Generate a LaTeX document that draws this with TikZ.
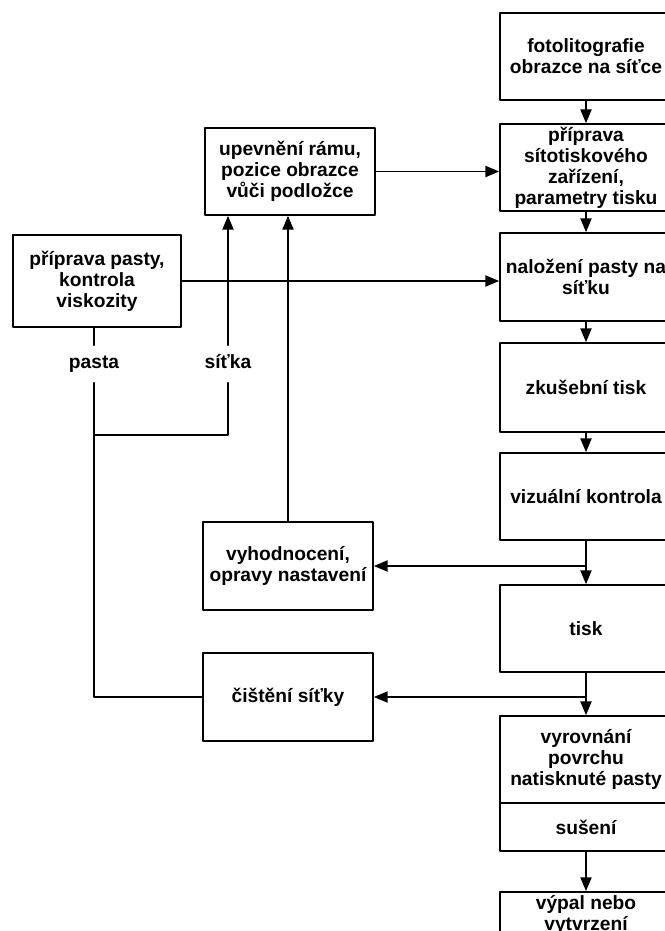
\documentclass[tikz,border=0pt]{standalone}
\usepackage{fontspec}
\setmainfont{Liberation Sans}
\usetikzlibrary{arrows}

\begin{document}
\begin{tikzpicture}[line cap=round,line join=round,>=triangle 45,x=0.75pt,y=-0.75pt,line width=1.4pt,
	box/.style={draw,align=center,inner sep=1pt,font=\fontsize{14.4}{15.75}\selectfont\bfseries},
	colbox/.style={box,minimum width=129pt,minimum height=65.25pt},
	sidebox/.style={box,minimum width=127.5pt,minimum height=66pt},
	lbl/.style={font=\fontsize{14.4}{15.75}\selectfont\bfseries,text height=10pt,text depth=3pt,inner xsep=2pt,inner ysep=7pt}]
				\useasboundingbox (0,0) rectangle (664,931);
				\node[colbox] (foto) at (586,56.5) {fotolitografie\\obrazce na síťce};
				\node[colbox] (pripr) at (586,167.5) {příprava\\sítotiskového\\zařízení,\\parametry tisku};
				\node[colbox,minimum height=66pt] (nalo) at (586,277) {naložení pasty na\\síťku};
				\node[colbox,minimum height=66.75pt] (zkus) at (586,387.5) {zkušební tisk};
				\node[colbox] (viz) at (586,496.5) {vizuální kontrola};
				\node[colbox] (tisk) at (586,628.5) {tisk};
				\node[colbox] (vyr) at (586,759.5) {vyrovnání\\povrchu\\natisknuté pasty};
				\node[colbox,minimum height=36pt] (sus) at (586,827) {sušení};
				\node[box,minimum width=129pt,inner ysep=2.5pt,anchor=north] (vypal) at (586,891) {výpal nebo\\vytvrzení};
				\node[sidebox,minimum height=65.25pt] (upev) at (290,171.5) {upevnění rámu,\\pozice obrazce\\vůči podložce};
				\node[sidebox,minimum width=126pt,minimum height=69pt] (pasty) at (97,281) {příprava pasty,\\kontrola\\viskozity};
				\node[sidebox] (vyh) at (288,566) {vyhodnocení,\\opravy nastavení};
				\node[sidebox] (cist) at (288,697) {čištění síťky};
				\node[lbl] (pasta) at (94,364) {pasta};
				\node[lbl] (sitka) at (228,364) {síťka};
				\coordinate (spoj) at (94,435);
				\draw [->] (foto) -- (pripr);
				\draw [->] (pripr) -- (nalo);
				\draw [->] (nalo) -- (zkus);
				\draw [->] (zkus) -- (viz);
				\draw [->] (viz) -- (tisk);
				\draw [->] (tisk) -- (vyr);
				\draw [->] (sus) -- (vypal);
				\draw [->] (upev.east) -- (upev.east -| pripr.west);
				\draw [->] (pasty.east) -- (pasty.east -| nalo.west);
				\draw [->] (vyh.east -| viz.south) -- (vyh.east);
				\draw [->] (cist.east -| tisk.south) -- (cist.east);
				\draw [->] (vyh.north) -- (vyh.north |- upev.south);
				\draw [->] (sitka) -- (sitka |- upev.south);
				\draw (pasta |- pasty.south) -- (pasta);
				\draw (sitka) |- (spoj);
				\draw (pasta) |- (cist.west);
			\end{tikzpicture}
\end{document}
